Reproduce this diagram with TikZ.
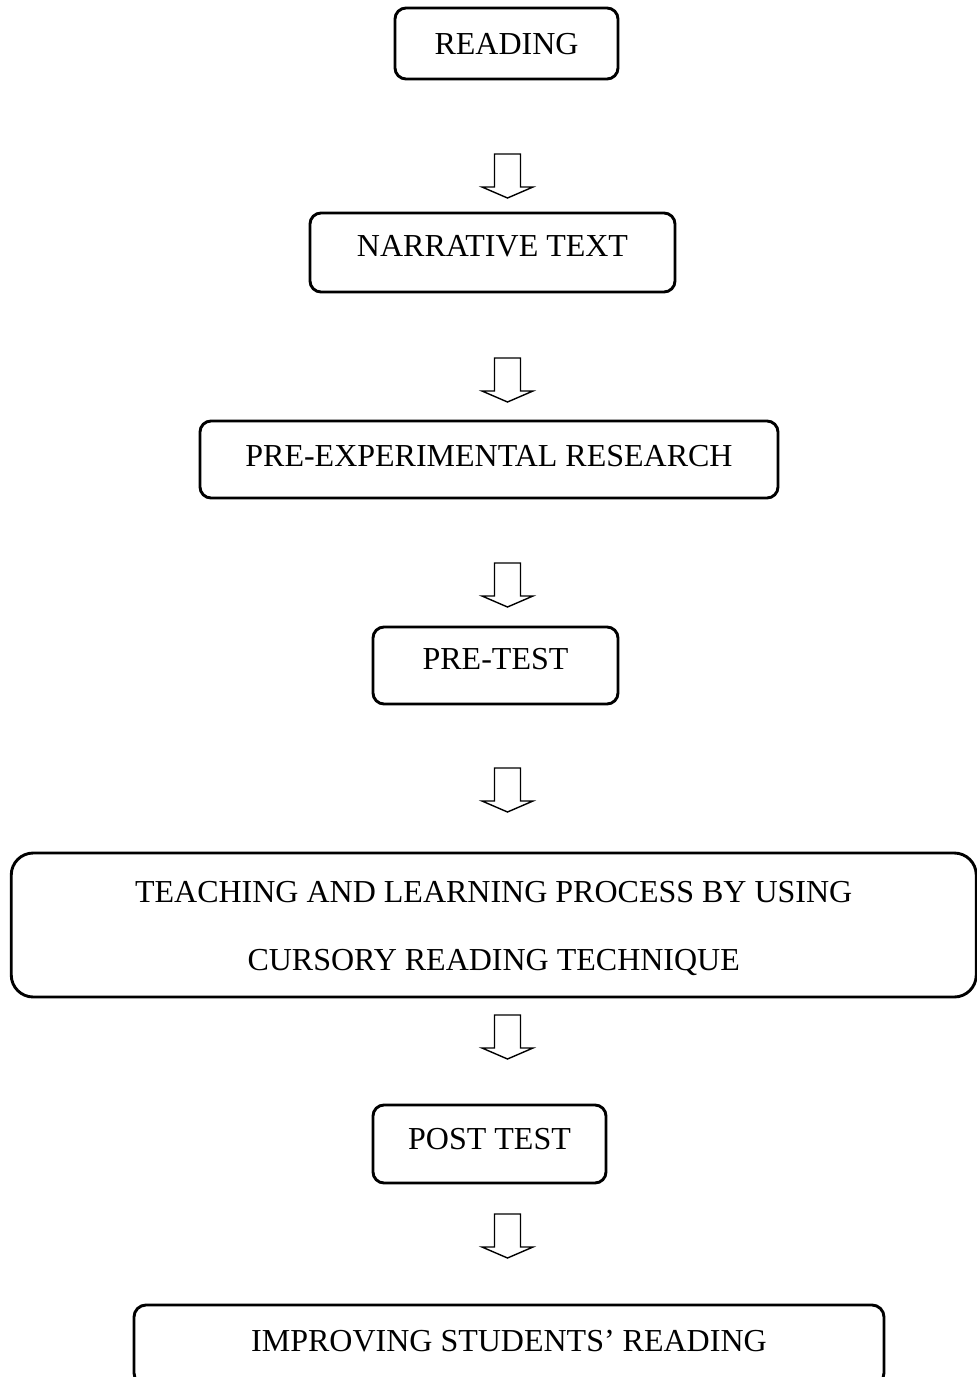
\documentclass[tikz,border=0pt]{standalone}
\usepackage{fontspec}
\setmainfont{Liberation Serif}
\tikzset{
  box/.style={draw, line width=2.9pt, rounded corners=11pt, inner sep=0pt,
    font=\fontsize{32}{68}\selectfont, align=center, text height=21.2pt},
  arrowline/.style={draw, line width=1.4pt, line join=miter},
  blockarrow/.pic={\draw[arrowline] (-13,0) -- (13,0) -- (13,33) -- (25.5,33) -- (0,44) -- (-25.5,33) -- (-13,33) -- cycle;}
}
\begin{document}
\begin{tikzpicture}[x=1pt,y=-1pt]
\useasboundingbox (0,0) rectangle (977,1377);
% boxes
\node[box, minimum width=223pt, minimum height=71pt, text depth=0pt] (reading) at (506.5,43.5) {READING};
\node[box, minimum width=365pt, minimum height=79pt, text depth=13pt] (narr) at (492.5,252.5) {NARRATIVE TEXT};
\node[box, minimum width=578pt, minimum height=77pt, text depth=7pt] (pre) at (489,459.5) {PRE-EXPERIMENTAL RESEARCH};
\node[box, minimum width=245pt, minimum height=77pt, text depth=13pt] (pretest) at (495.5,665.5) {PRE-TEST};
\node[box, rounded corners=22pt, minimum width=965pt, minimum height=144pt, text height=, text depth=] (teach) at (493.75,925)
  {\rule{0pt}{27.5pt}TEACHING AND LEARNING PROCESS BY USING\\CURSORY READING TECHNIQUE};
\node[box, minimum width=233pt, minimum height=78pt, text depth=10pt] (post) at (489.5,1144) {POST TEST};
\node[box, rounded corners=12pt, minimum width=750pt, minimum height=80pt, text depth=8pt] (improve) at (509,1345) {IMPROVING STUDENTS’ READING};
% block arrows
\pic at (507.5,154) {blockarrow};
\pic at (507.5,358) {blockarrow};
\pic at (507.5,563) {blockarrow};
\pic at (507.5,768) {blockarrow};
\pic at (507.5,1015) {blockarrow};
\pic at (507.5,1214) {blockarrow};
\end{tikzpicture}
\end{document}
